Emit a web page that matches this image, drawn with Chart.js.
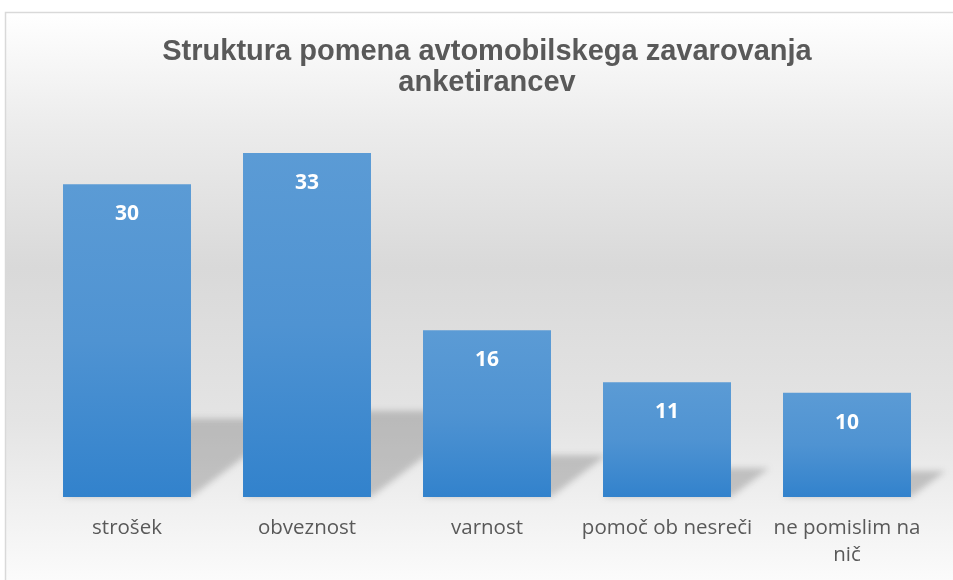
<!DOCTYPE html>
<html>
<head>
<meta charset="utf-8">
<script src="https://cdn.jsdelivr.net/npm/chart.js@4"></script>
<style>
  html, body { margin: 0; padding: 0; background: #fff; }
  #wrap { width: 953px; height: 580px; }
</style>
</head>
<body>
<div id="wrap"><canvas id="chart"></canvas></div>
<script>
const categories = ["strošek", "obveznost", "varnost", "pomoč ob nesreči", ["ne pomislim na", "nič"]];
const values = [30, 33, 16, 11, 10];
const titleLines = ["Struktura pomena avtomobilskega zavarovanja", "anketirancev"];

const TEXT = "#595959";

// gradient background + thin frame, like the office chart area
const backdrop = {
  id: "backdrop",
  beforeDraw(chart) {
    const { ctx, width, height } = chart;
    const g = ctx.createLinearGradient(0, 12, 0, height);
    g.addColorStop(0, "#ffffff");
    g.addColorStop(0.2, "#ececec");
    g.addColorStop(0.45, "#d9d9d9");
    g.addColorStop(0.72, "#e4e4e4");
    g.addColorStop(1, "#fbfbfb");
    ctx.save();
    ctx.fillStyle = g;
    ctx.fillRect(5, 12, width - 5, height - 12);
    ctx.strokeStyle = "#d9d9d9";
    ctx.lineWidth = 1.5;
    ctx.strokeRect(5.5, 12.5, width, height);
    ctx.restore();
  },
};

// soft cast shadow behind each bar
const barShadow = {
  id: "barShadow",
  beforeDatasetsDraw(chart) {
    const { ctx } = chart;
    ctx.save();
    ctx.filter = "blur(3px)";
    ctx.fillStyle = "rgba(90,90,90,0.3)";
    for (const bar of chart.getDatasetMeta(0).data) {
      const h = bar.base - bar.y;
      const left = bar.x - bar.width / 2, right = bar.x + bar.width / 2;
      const up = h * 0.25, dx = h * 0.33;
      ctx.beginPath();
      ctx.moveTo(left, bar.base);
      ctx.lineTo(right, bar.base);
      ctx.lineTo(right + dx, bar.base - up);
      ctx.lineTo(left + dx, bar.base - up);
      ctx.closePath();
      ctx.fill();
    }
    ctx.restore();
  },
};

// value labels inside the top of each bar
const valueLabels = {
  id: "valueLabels",
  afterDatasetsDraw(chart) {
    const { ctx } = chart;
    const meta = chart.getDatasetMeta(0);
    ctx.save();
    ctx.fillStyle = "#ffffff";
    ctx.font = "bold 21px 'Open Sans'";
    ctx.textAlign = "center";
    ctx.textBaseline = "middle";
    meta.data.forEach((bar, i) => {
      ctx.fillText(String(values[i]), bar.x, bar.y + 30);
    });
    ctx.restore();
  },
};

function barFill(c) {
  const chart = c.chart;
  if (!chart.chartArea || c.parsed === undefined) return "#4a8fd3";
  const y = chart.scales.y;
  const top = y.getPixelForValue(c.parsed.y);
  const bottom = y.getPixelForValue(0);
  const g = chart.ctx.createLinearGradient(0, top, 0, bottom);
  g.addColorStop(0, "#5b9bd5");
  g.addColorStop(0.5, "#4f93d2");
  g.addColorStop(1, "#3282cc");
  return g;
}

new Chart(document.getElementById("chart"), {
  type: "bar",
  data: {
    labels: categories,
    datasets: [{ data: values, backgroundColor: barFill, borderWidth: 0,
                 barPercentage: 0.711, categoryPercentage: 1 }],
  },
  options: {
    responsive: true,
    maintainAspectRatio: false,
    animation: false,
    layout: { padding: { left: 37, right: 16, top: 12, bottom: 11 } },
    plugins: {
      legend: { display: false },
      tooltip: { enabled: false },
      title: {
        display: true,
        text: titleLines,
        color: TEXT,
        font: { family: "'Liberation Sans', Arial", size: 29, weight: "bold", lineHeight: 1.07 },
        padding: { top: 24, bottom: 34 },
      },
    },
    scales: {
      x: {
        grid: { display: false, drawTicks: false },
        border: { display: false },
        ticks: { color: TEXT, font: { family: "'Open Sans'", size: 20.5, lineHeight: 1.35 }, padding: 17,
                 autoSkip: false, maxRotation: 0 },
        afterFit(scale) { scale.height = 72; },
      },
      y: { display: false, min: 0, max: 35 },
    },
  },
  plugins: [backdrop, barShadow, valueLabels],
});
</script>
</body>
</html>
